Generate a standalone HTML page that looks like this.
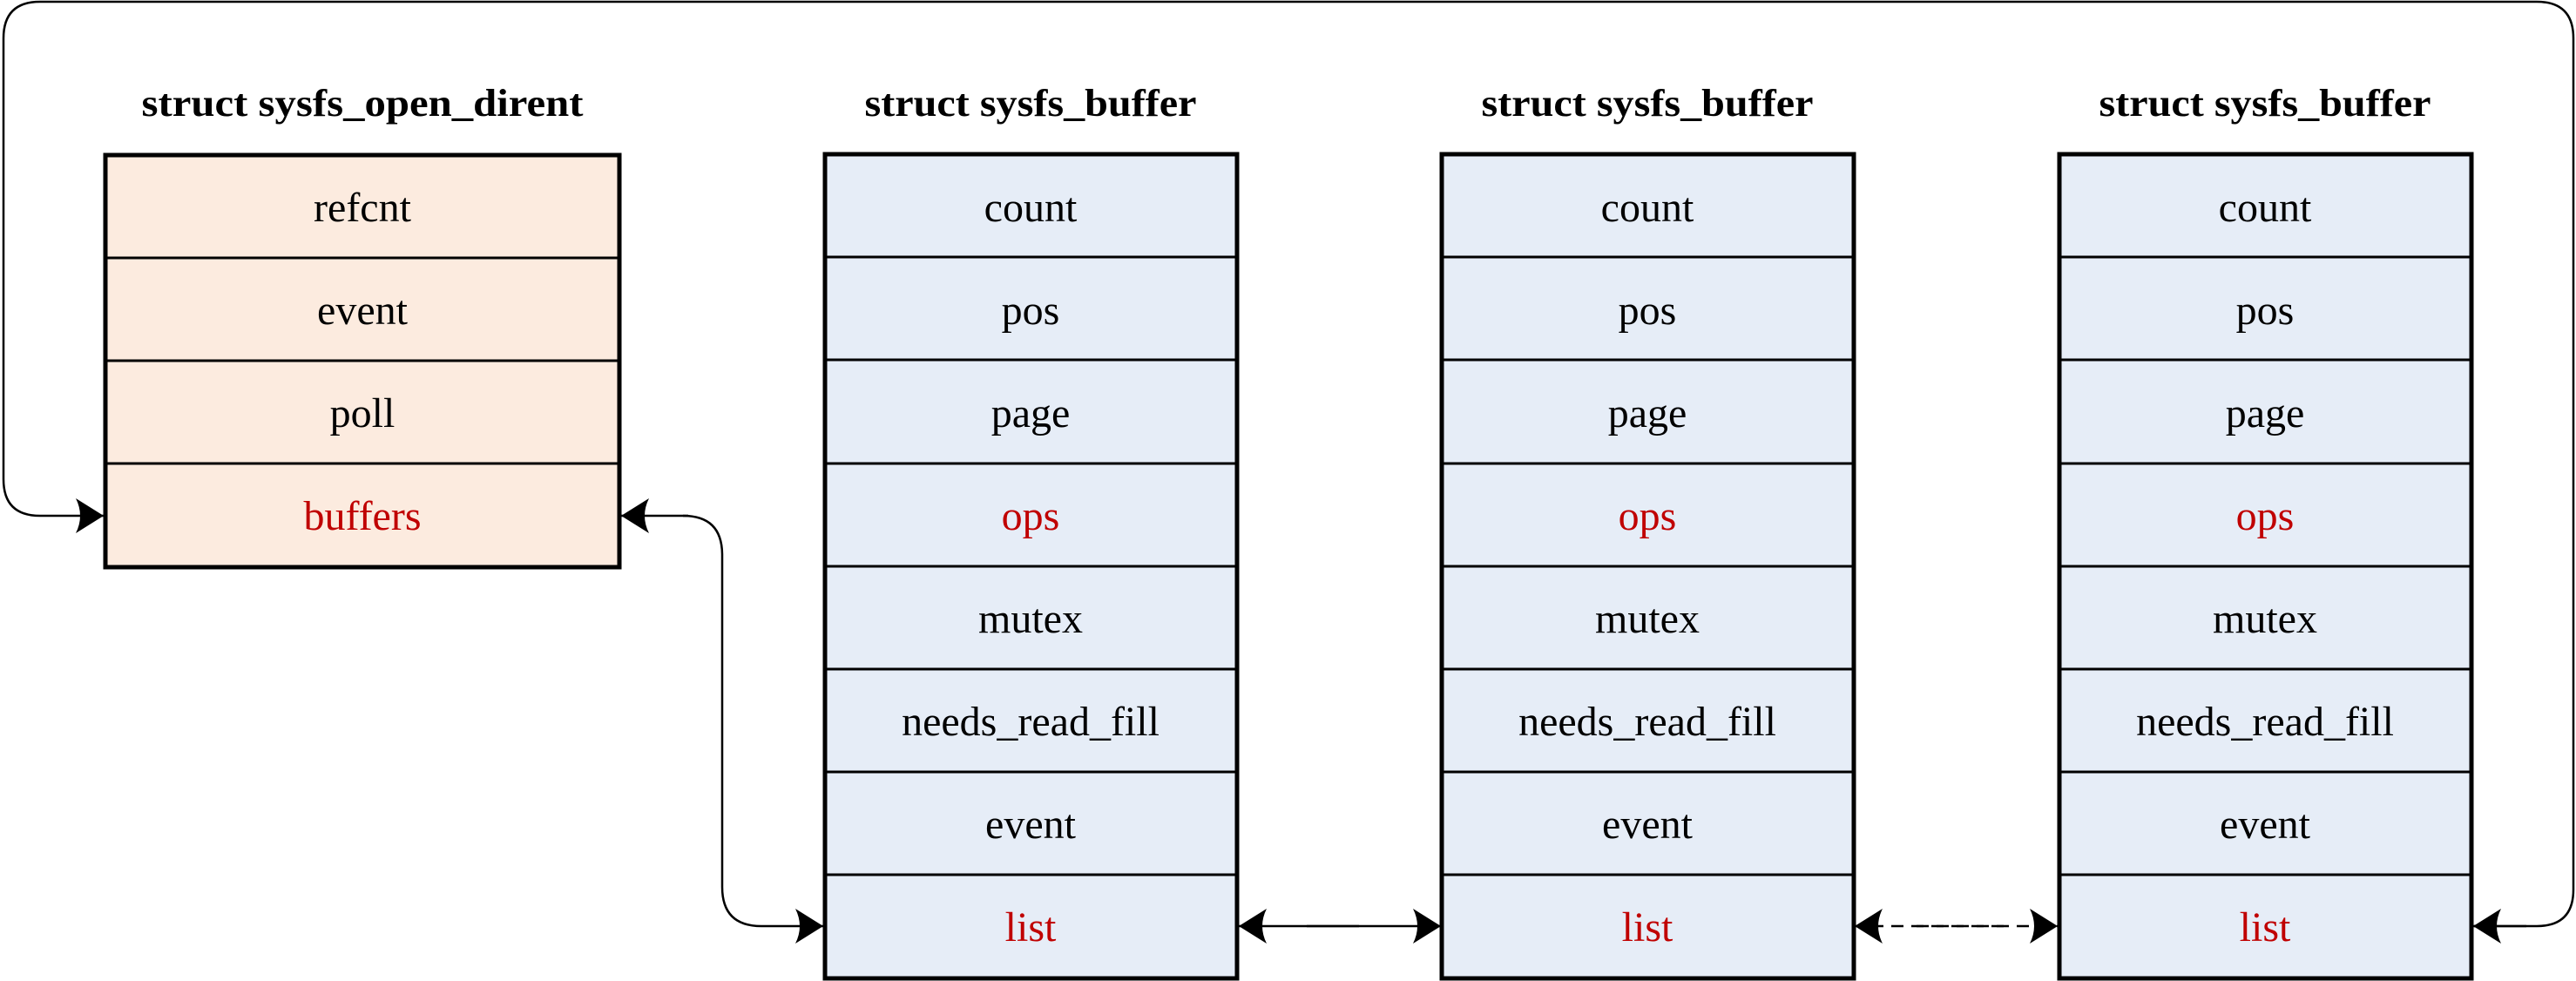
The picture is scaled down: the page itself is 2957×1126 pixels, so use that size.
<!DOCTYPE html>
<html><head><meta charset="utf-8"><style>
html,body{margin:0;padding:0;background:#fff;}
svg{display:block;}
text{font-family:"Liberation Serif",serif;text-anchor:middle;}
.t{font-weight:bold;font-size:44px;}
.f{font-size:48px;fill:#000;}
.r{fill:#c00000;}
</style></head><body>
<svg width="2957" height="1126" viewBox="0 0 2957 1126" xmlns="http://www.w3.org/2000/svg">
<defs>
<marker id="a" markerWidth="34" markerHeight="40" refX="32" refY="20" orient="auto" markerUnits="userSpaceOnUse">
<path d="M0,0 Q10,20 0,40 L32,20 Z" fill="#000"/>
</marker>
</defs>
<!-- box 1 -->
<rect x="121" y="178" width="590" height="473" fill="#fcebdf"/>
<g stroke="#000" stroke-width="3"><line x1="121" y1="296" x2="711" y2="296"/><line x1="121" y1="414" x2="711" y2="414"/><line x1="121" y1="532" x2="711" y2="532"/></g>
<rect x="121" y="178" width="590" height="473" fill="none" stroke="#000" stroke-width="5"/>
<text class="t" x="416" y="133" textLength="507" lengthAdjust="spacingAndGlyphs">struct sysfs_open_dirent</text>
<text class="f" x="416" y="254">refcnt</text>
<text class="f" x="416" y="372">event</text>
<text class="f" x="416" y="490">poll</text>
<text class="f r" x="416" y="608">buffers</text>

<g id="b">
<rect x="947" y="177" width="473" height="946" fill="#e6edf7"/>
<g stroke="#000" stroke-width="3">
<line x1="947" y1="295" x2="1420" y2="295"/><line x1="947" y1="413" x2="1420" y2="413"/>
<line x1="947" y1="532" x2="1420" y2="532"/><line x1="947" y1="650" x2="1420" y2="650"/>
<line x1="947" y1="768" x2="1420" y2="768"/><line x1="947" y1="886" x2="1420" y2="886"/>
<line x1="947" y1="1004" x2="1420" y2="1004"/></g>
<rect x="947" y="177" width="473" height="946" fill="none" stroke="#000" stroke-width="5"/>
<text class="t" x="1183" y="133" textLength="381" lengthAdjust="spacingAndGlyphs">struct sysfs_buffer</text>
<text class="f" x="1183" y="254">count</text>
<text class="f" x="1183" y="372">pos</text>
<text class="f" x="1183" y="490">page</text>
<text class="f r" x="1183" y="608">ops</text>
<text class="f" x="1183" y="726">mutex</text>
<text class="f" x="1183" y="844">needs_read_fill</text>
<text class="f" x="1183" y="962">event</text>
<text class="f r" x="1183" y="1080">list</text>
</g>
<use href="#b" x="708"/>
<use href="#b" x="1417"/>

<!-- connectors -->
<g fill="none" stroke="#000" stroke-width="2.5">
<path d="M2840,1063 L2912,1063 Q2954,1063 2954,1021 L2954,44 Q2954,2 2912,2 L46,2 Q4,2 4,44 L4,550 Q4,592 46,592 L119,592" marker-end="url(#a)"/>
<path d="M2900,1063 L2839,1063" marker-end="url(#a)"/>
<path d="M784,592 Q829,592 829,637 L829,1018 Q829,1063 874,1063 L945,1063" marker-end="url(#a)"/>
<path d="M790,592 L713,592" marker-end="url(#a)"/>
<path d="M1500,1063 L1654,1063" marker-end="url(#a)"/>
<path d="M1560,1063 L1422,1063" marker-end="url(#a)"/>
<path d="M2200,1063 L2362,1063" stroke-dasharray="14,9" marker-end="url(#a)"/>
<path d="M2300,1063 L2129,1063" stroke-dasharray="14,9" marker-end="url(#a)"/>
</g>
</svg>
</body></html>
